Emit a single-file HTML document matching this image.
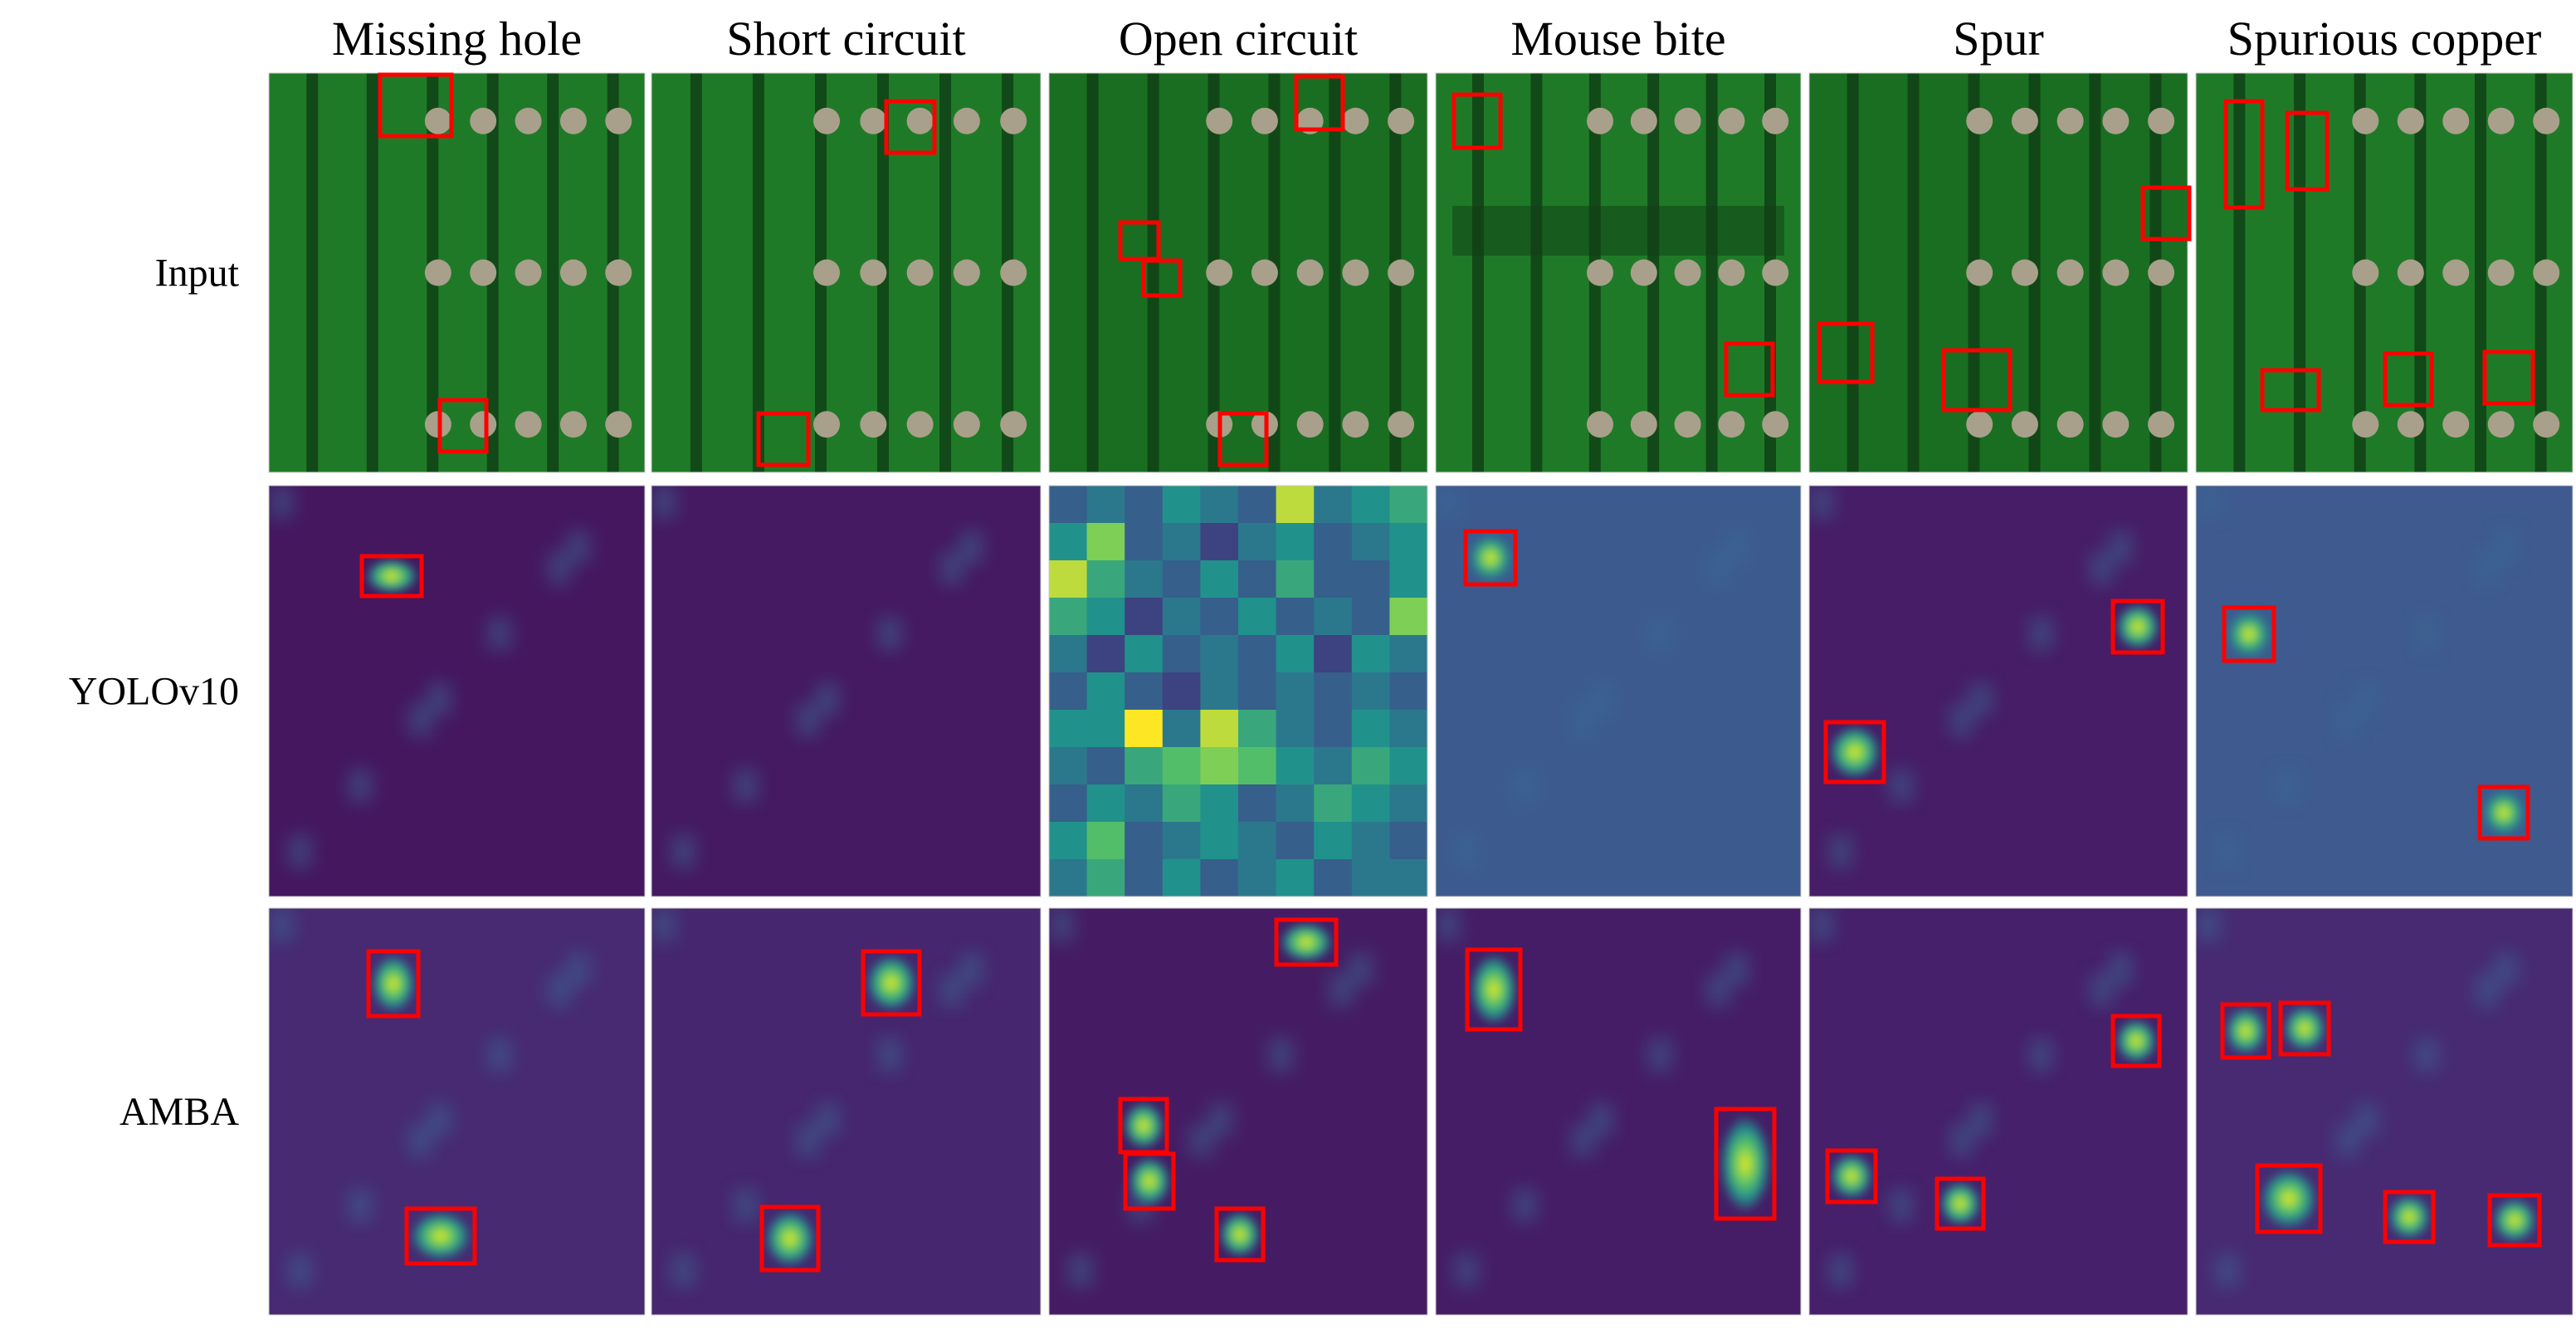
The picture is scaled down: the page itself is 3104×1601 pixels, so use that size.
<!DOCTYPE html>
<html><head><meta charset="utf-8"><style>
html,body{margin:0;padding:0;background:#fff}
svg{display:block}
text{font-family:"Liberation Serif",serif;fill:#000}
</style></head><body>
<svg id="fig" width="3104" height="1601" viewBox="0 0 3104 1601" xmlns="http://www.w3.org/2000/svg">
<defs>
<filter id="blur" x="-50%" y="-50%" width="200%" height="200%"><feGaussianBlur stdDeviation="10"/></filter>
<filter id="blur2" x="-50%" y="-50%" width="200%" height="200%"><feGaussianBlur stdDeviation="5"/></filter>
<radialGradient id="hot"><stop offset="0" stop-color="#f2e91a"/><stop offset="0.35" stop-color="#6ccd5a"/><stop offset="0.7" stop-color="#21908d"/><stop offset="1" stop-color="#21908d" stop-opacity="0"/></radialGradient>
</defs>
</svg>
<script>
const columns=["Missing hole","Short circuit","Open circuit","Mouse bite","Spur","Spurious copper"];
const rows=["Input","YOLOv10","AMBA"];
const colX=[[324,777],[785,1254],[1264,1720],[1730,2170],[2180,2636],[2646,3100]];
const rowY=[[88,569],[585,1080],[1094,1584]];
const boxesInput=[[[229,45,43,37],[265,241,28,31]],[[534,61,29,31],[457,249,30,31]],[[781,46,28,32],[675,134,23,22],[689,157,22,21],[735,249,28,31]],[[876,57,28,32],[1040,207,28,31]],[[1291,113,28,31],[1096,195,32,35],[1171,211,40,36]],[[1341,61,22,64],[1378,68,24,46],[1363,223,34,24],[1437,213,28,31],[1497,212,29,31]]];
const boxesYolo=[[[218,335,36,24]],[],[],[[883,320,30,32]],[[1273,362,30,31],[1100,435,35,36]],[[1340,366,30,32],[1494,474,29,31]]];
const boxesAmba=[[[222,573,30,39],[245,728,41,33]],[[520,573,34,38],[459,727,34,38]],[[769,554,36,27],[675,662,28,32],[678,695,29,33],[733,728,28,31]],[[884,572,32,48],[1034,668,35,66]],[[1273,612,28,30],[1101,693,29,31],[1167,710,28,30]],[[1339,605,28,32],[1374,604,29,31],[1360,702,38,40],[1437,718,29,30],[1500,720,30,30]]];
const boxSets=[boxesInput,boxesYolo,boxesAmba];
const yoloBase=["#45175f","#451a62","#3a4f8a","#3c5a8e","#461d66","#3e5a8e"];
const ambaBase=["#472a72","#46266e","#451c64","#451d66","#46206a","#472a72"];
const ocGrid=[
[0.3,0.4,0.3,0.5,0.4,0.3,0.9,0.4,0.5,0.6],
[0.5,0.8,0.3,0.4,0.2,0.4,0.5,0.3,0.4,0.5],
[0.9,0.6,0.4,0.3,0.5,0.3,0.6,0.3,0.3,0.5],
[0.6,0.5,0.2,0.4,0.3,0.5,0.3,0.4,0.3,0.8],
[0.4,0.2,0.5,0.3,0.4,0.3,0.5,0.2,0.5,0.4],
[0.3,0.5,0.3,0.2,0.4,0.3,0.4,0.3,0.4,0.3],
[0.5,0.5,1.0,0.4,0.9,0.6,0.4,0.3,0.5,0.4],
[0.4,0.3,0.6,0.7,0.8,0.7,0.5,0.4,0.6,0.5],
[0.3,0.5,0.4,0.6,0.5,0.3,0.4,0.6,0.5,0.4],
[0.5,0.7,0.3,0.4,0.5,0.4,0.3,0.5,0.4,0.3],
[0.4,0.6,0.3,0.5,0.3,0.4,0.5,0.3,0.4,0.4]];
const svg=document.getElementById('fig');
const NS='http://www.w3.org/2000/svg';
function el(tag,attrs,parent){const e=document.createElementNS(NS,tag);for(const k in attrs)e.setAttribute(k,attrs[k]);(parent||svg).appendChild(e);return e;}
function viridis(v){const s=[[68,1,84],[59,82,139],[33,145,140],[94,201,98],[253,231,37]];const t=Math.max(0,Math.min(1,v))*4;const i=Math.min(3,Math.floor(t));const f=t-i;const c=s[i].map((a,j)=>Math.round(a+(s[i+1][j]-a)*f));return `rgb(${c})`;}
columns.forEach((c,i)=>{
  const t=el('text',{x:(colX[i][0]+colX[i][1])/2,y:66,'text-anchor':'middle','font-size':58});
  t.textContent=c;
  
  
});
rows.forEach((r,j)=>{
  const t=el('text',{x:288,y:(rowY[j][0]+rowY[j][1])/2+16,'text-anchor':'end','font-size':48});
  t.textContent=r;
  
  
});
rows.forEach((r,j)=>{
  columns.forEach((c,i)=>{
    const x0=colX[i][0],x1=colX[i][1],y0=rowY[j][0],y1=rowY[j][1],w=x1-x0,h=y1-y0;
    const g=el('g',{});
    
    
    const cp=el('clipPath',{id:'cp'+j+'_'+i},g);el('rect',{x:x0,y:y0,width:w,height:h},cp);
    const inner=el('g',{'clip-path':'url(#cp'+j+'_'+i+')'},g);
    const boxes=boxSets[j][i];
    if(j===0){
      el('rect',{x:x0,y:y0,width:w,height:h,fill:i===2||i===4?'#1a6e22':'#1f7a28'},inner);
      for(let k=0;k<6;k++){el('rect',{x:x0+w*(0.1+k*0.16),y:y0,width:14,height:h,fill:'#0f3d14',opacity:0.8},inner);}
      for(let k=0;k<3;k++)for(let m=0;m<5;m++){el('circle',{cx:x0+w*(0.45+m*0.12),cy:y0+h*(0.12+k*0.38),r:16,fill:'#a8a08a'},inner);}
      if(i===3){el('rect',{x:x0+20,y:y0+160,width:w-40,height:60,fill:'#0f3d14',opacity:0.5},inner);}
    } else if(j===1&&i===2){
      const nr=ocGrid.length,nc=ocGrid[0].length;
      ocGrid.forEach((row,ri)=>row.forEach((v,ci)=>{el('rect',{x:x0+ci*w/nc,y:y0+ri*h/nr,width:w/nc+1,height:h/nr+1,fill:viridis(v)},inner);}));
    } else {
      el('rect',{x:x0,y:y0,width:w,height:h,fill:j===1?yoloBase[i]:ambaBase[i]},inner);
      for(let k=0;k<8;k++){el('rect',{x:x0+w*((k*37%90)/100),y:y0+h*((k*53%90)/100),width:30,height:40,fill:'#3b6c96',opacity:0.45,filter:'url(#blur)'},inner);}
      boxes.forEach(b=>{const bx=b[0]*2,by=b[1]*2,bw=b[2]*2,bh=b[3]*2;el('ellipse',{cx:bx+bw/2,cy:by+bh/2,rx:bw*0.45,ry:bh*0.45,fill:'url(#hot)',filter:'url(#blur2)'},inner);});
    }
    el('rect',{x:x0,y:y0,width:w,height:h,fill:'none',stroke:'#ccc','stroke-width':1},g);
    boxes.forEach((b,bi)=>{
      const r2=el('rect',{x:b[0]*2,y:b[1]*2,width:b[2]*2,height:b[3]*2,fill:'none',stroke:'#ff0000','stroke-width':5},g);
      
      
    });
  });
});
</script>
</body></html>
